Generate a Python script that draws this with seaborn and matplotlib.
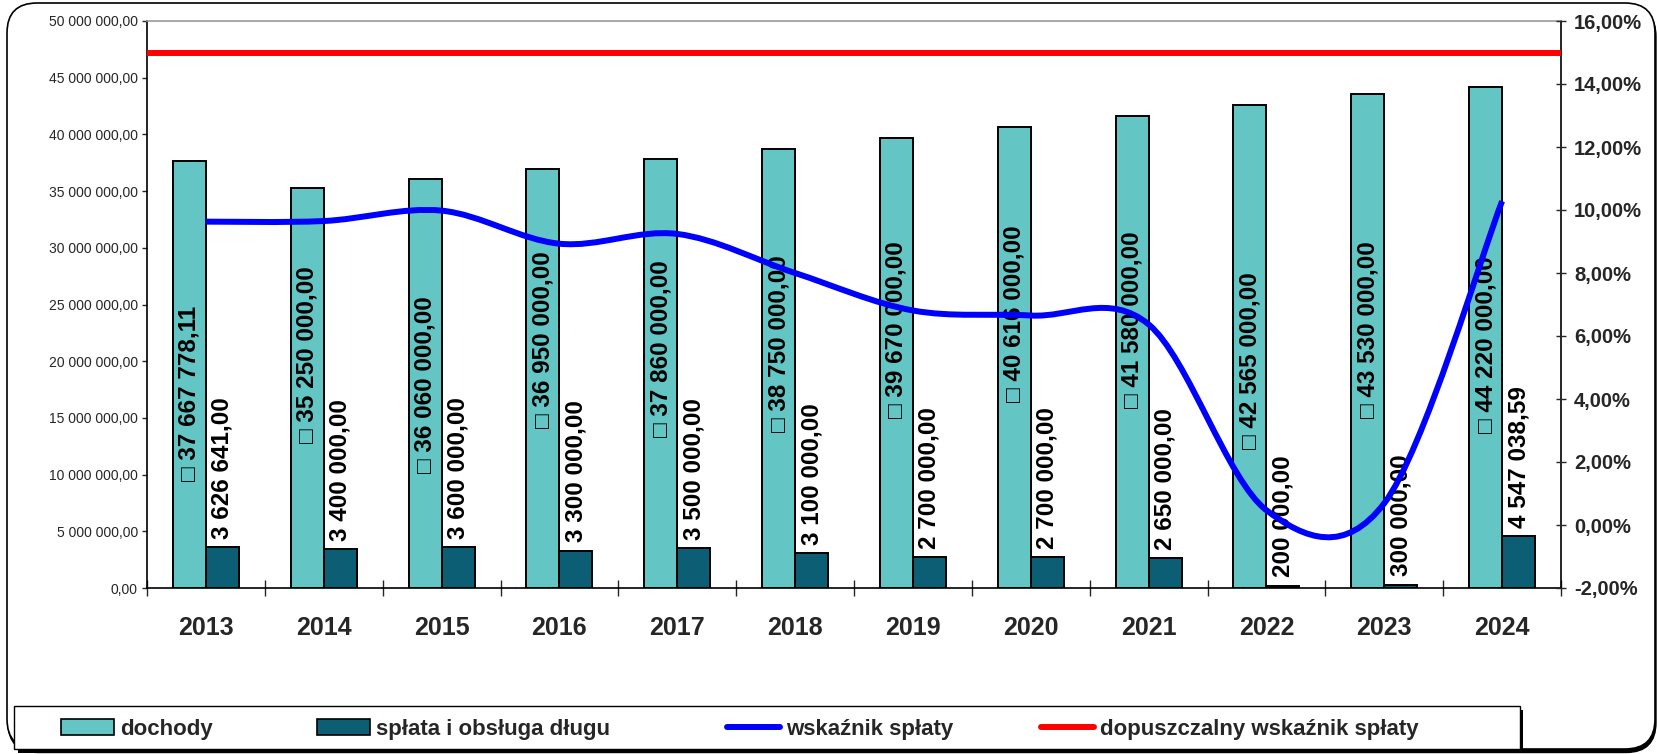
import numpy as np
import pandas as pd
import seaborn as sns
import matplotlib.pyplot as plt
from matplotlib.ticker import FuncFormatter
from matplotlib.patches import Patch, FancyBboxPatch, Rectangle, PathPatch
from matplotlib.lines import Line2D
from matplotlib.path import Path

lata = ['2013', '2014', '2015', '2016', '2017', '2018', '2019', '2020', '2021', '2022', '2023', '2024']
dochody = [37667778.11, 35250000, 36060000, 36950000, 37860000, 38750000,
           39670000, 40616000, 41580000, 42565000, 43530000, 44220000]
splata = [3626641, 3400000, 3600000, 3300000, 3500000, 3100000,
          2700000, 2700000, 2650000, 200000, 300000, 4547038.59]
wskaznik = [9.63, 9.65, 9.98, 8.93, 9.24, 8.00, 6.81, 6.65, 6.37, 0.47, 0.69, 10.28]
dopuszczalny = 15.0

# where the dochody labels start (bottom of the rotated text), in PLN
etykieta_y = [9.4e6, 12.8e6, 10.1e6, 14.1e6, 13.3e6, 13.8e6, 15.0e6, 16.4e6, 15.9e6, 12.3e6, 15.0e6, 13.7e6]

kol_doch = '#63C5C4'
kol_spl = '#0B5E74'

sns.set_style('white')
plt.rcParams['font.family'] = ['Liberation Sans', 'DejaVu Sans']

def pl(v):
    return f"{v:,.2f}".replace(',', ' ').replace('.', ',')

W, H = 1657, 754
fig = plt.figure(figsize=(W / 100, H / 100), dpi=100)
fig.patch.set_facecolor('white')

# outer rounded frame with shadow
cien = FancyBboxPatch((0.08, 0.015), 16.48, 7.46, boxstyle='round,pad=0,rounding_size=0.3',
                      transform=fig.dpi_scale_trans, facecolor='black', edgecolor='black', zorder=-3)
ramka = FancyBboxPatch((0.07, 0.05), 16.48, 7.46, boxstyle='round,pad=0,rounding_size=0.3',
                       transform=fig.dpi_scale_trans, facecolor='white', edgecolor='black',
                       linewidth=1.2, zorder=-2)
fig.add_artist(cien)
fig.add_artist(ramka)

ax = fig.add_axes([147 / W, 1 - 588 / H, (1561 - 147) / W, (588 - 21) / H])

df = pd.DataFrame({
    'rok': lata * 2,
    'kwota': dochody + splata,
    'seria': ['dochody'] * len(lata) + ['spłata i obsługa długu'] * len(lata),
})
sns.barplot(data=df, x='rok', y='kwota', hue='seria', palette=[kol_doch, kol_spl],
            width=0.56, gap=0, saturation=1, edgecolor='black', linewidth=1.4,
            legend=False, ax=ax)

ax.set_xlim(-0.5, len(lata) - 0.5)
ax.set_ylim(0, 50e6)
ax.set_yticks(np.arange(0, 50e6 + 1, 5e6))
ax.yaxis.set_major_formatter(FuncFormatter(lambda v, p: pl(v)))
ax.tick_params(axis='y', which='major', left=True, direction='out', length=3.5, width=1,
               pad=3, labelsize=10)
ax.set_xlabel('')
ax.set_ylabel('')
ax.set_xticks(range(len(lata)))
ax.set_xticklabels(lata, fontsize=18, fontweight='bold')
ax.tick_params(axis='x', which='major', length=0, pad=20)
ax.set_xticks(np.arange(-0.5, len(lata), 1), minor=True)
ax.tick_params(axis='x', which='minor', bottom=True, direction='inout', length=11.5, width=1)

for s in ['left', 'bottom', 'right']:
    ax.spines[s].set_color('black')
    ax.spines[s].set_linewidth(1.2)
ax.spines['top'].set_color('#999999')
ax.spines['top'].set_linewidth(1.2)

for i in range(len(lata)):
    ax.text(i - 0.14, etykieta_y[i], '□ ' + pl(dochody[i]), rotation=90, ha='center',
            va='bottom', fontsize=17.5, fontweight='bold', color='black', zorder=5)
    ax.annotate(pl(splata[i]), (i + 0.14, splata[i]), xytext=(0, 6), textcoords='offset points',
                rotation=90, ha='center', va='bottom', fontsize=17.5, fontweight='bold',
                color='black', zorder=5)

ax2 = ax.twinx()
ax2.set_ylim(-2, 16)
ax2.set_yticks(np.arange(-2, 16.1, 2))
ax2.yaxis.set_major_formatter(FuncFormatter(lambda v, p: f"{v:.2f}%".replace('.', ',')))
ax2.tick_params(axis='y', right=True, direction='inout', length=7, width=1, pad=6,
                labelsize=14.5)
for t in ax2.get_yticklabels():
    t.set_fontweight('bold')
for s in ax2.spines.values():
    s.set_visible(False)
ax2.grid(False)

ax2.axhline(dopuszczalny, color='#FF0000', linewidth=4.3, solid_capstyle='butt')

# smoothed line through the ratio values (Catmull-Rom as bezier)
xs = list(range(len(wskaznik)))
pts = [(xs[0], wskaznik[0])] + list(zip(xs, wskaznik)) + [(xs[-1], wskaznik[-1])]
verts = [pts[1]]
codes = [Path.MOVETO]
for k in range(1, len(pts) - 2):
    p0, p1, p2, p3 = pts[k - 1], pts[k], pts[k + 1], pts[k + 2]
    c1 = (p1[0] + (p2[0] - p0[0]) / 6, p1[1] + (p2[1] - p0[1]) / 6)
    c2 = (p2[0] - (p3[0] - p1[0]) / 6, p2[1] - (p3[1] - p1[1]) / 6)
    verts += [c1, c2, p2]
    codes += [Path.CURVE4] * 3
ax2.add_patch(PathPatch(Path(verts, codes), fill=False, edgecolor='#0000FF',
                        linewidth=4.3, capstyle='butt', zorder=6))

# legend box with shadow
fig.add_artist(Rectangle((1519 / W, 1 - 752 / H), 4 / W, 42 / H, transform=fig.transFigure,
                         facecolor='black', edgecolor='none', zorder=-1))
fig.add_artist(Rectangle((14 / W, 1 - 749 / H), (1520 - 14) / W, (749 - 706) / H,
                         transform=fig.transFigure, facecolor='white', edgecolor='black',
                         linewidth=1, zorder=-0.5))
fig.add_artist(Rectangle((18 / W, 1 - 753 / H), (1600 - 18) / W, 4 / H, transform=fig.transFigure,
                         facecolor='black', edgecolor='none', zorder=-0.4))

uchwyty = [
    Patch(facecolor=kol_doch, edgecolor='black', linewidth=1.2),
    Patch(facecolor=kol_spl, edgecolor='black', linewidth=1.2),
    Line2D([], [], color='#0000FF', linewidth=4.3),
    Line2D([], [], color='#FF0000', linewidth=4.3),
]
etykiety = ['dochody', 'spłata i obsługa długu', 'wskaźnik spłaty', 'dopuszczalny wskaźnik spłaty']
start_x = [61, 317, 727, 1041]
for h, lab, x0 in zip(uchwyty, etykiety, start_x):
    fig.legend([h], [lab], loc='center left', bbox_to_anchor=(x0 / W, 1 - 729 / H),
               frameon=False, prop={'size': 16, 'weight': 'bold'}, handlelength=2.4,
               handleheight=0.75, handletextpad=0.25, borderpad=0, borderaxespad=0)

fig.savefig('out.png', dpi=100, facecolor='white')
